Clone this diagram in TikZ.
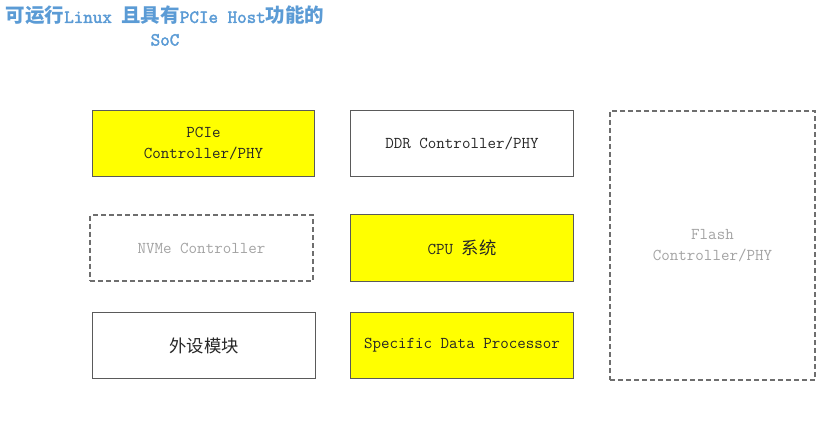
\documentclass[tikz,border=0pt]{standalone}
\usepackage{fontspec}
\newfontfamily\cjk{Noto Sans CJK SC}
\newfontfamily\titlett{Latin Modern Mono}[FakeBold=2.2]
\usepackage{xcolor}
\definecolor{chipYellow}{HTML}{FFFF00}
\definecolor{titleBlue}{HTML}{5B9BD5}
\definecolor{lineGray}{HTML}{5A5A5A}
\definecolor{ghostLine}{HTML}{6E6E6E}
\definecolor{ghostText}{HTML}{A3A3A3}
\newcommand{\zh}[1]{{\cjk\fontsize{13}{16}\selectfont #1}}
\newcommand{\zhtitle}[1]{{\cjk\bfseries\fontsize{14.6}{17}\selectfont #1}}

\begin{document}
\begin{tikzpicture}[x=0.75pt,y=-0.75pt,
        font=\ttfamily\fontsize{12.4}{16}\selectfont,
        blk/.style={draw=lineGray, line width=0.8pt, inner sep=0pt, align=center,
            text=black!85, minimum width=167pt, minimum height=50pt},
        hot/.style={blk, fill=chipYellow},
        ghost/.style={draw=ghostLine, line width=1.1pt, dash pattern=on 3.75pt off 2.25pt,
            inner sep=0pt, align=center, text=ghostText}]
        \useasboundingbox (0,0) rectangle (836,428);

        % title
        \node[text=titleBlue, align=center,
            font=\titlett\fontsize{13.9}{17}\selectfont] (title) at (165,26)
            {\zhtitle{可运行}Linux \zhtitle{且具有}PCIe Host\zhtitle{功能的}\\SoC};

        % left column
        \node[hot] (pcie) at (203.5,143.5) {PCIe\\Controller/PHY};
        \node[ghost, minimum width=167pt, minimum height=49.5pt] (nvme) at (201.5,248) {NVMe Controller};
        \node[blk] (periph) at (204,345.5) {\zh{外设模块}};

        % middle column
        \node[blk] (ddr) at (462,143.5) {DDR Controller/PHY};
        \node[hot] (cpu) at (462,248) {CPU \zh{系统}};
        \node[hot] (sdp) at (462,345.5) {Specific Data Processor};

        % right column
        \node[ghost, minimum width=153.75pt, minimum height=201.75pt] (flash) at (712.5,245.5)
            {Flash\\Controller/PHY};
    \end{tikzpicture}
\end{document}
